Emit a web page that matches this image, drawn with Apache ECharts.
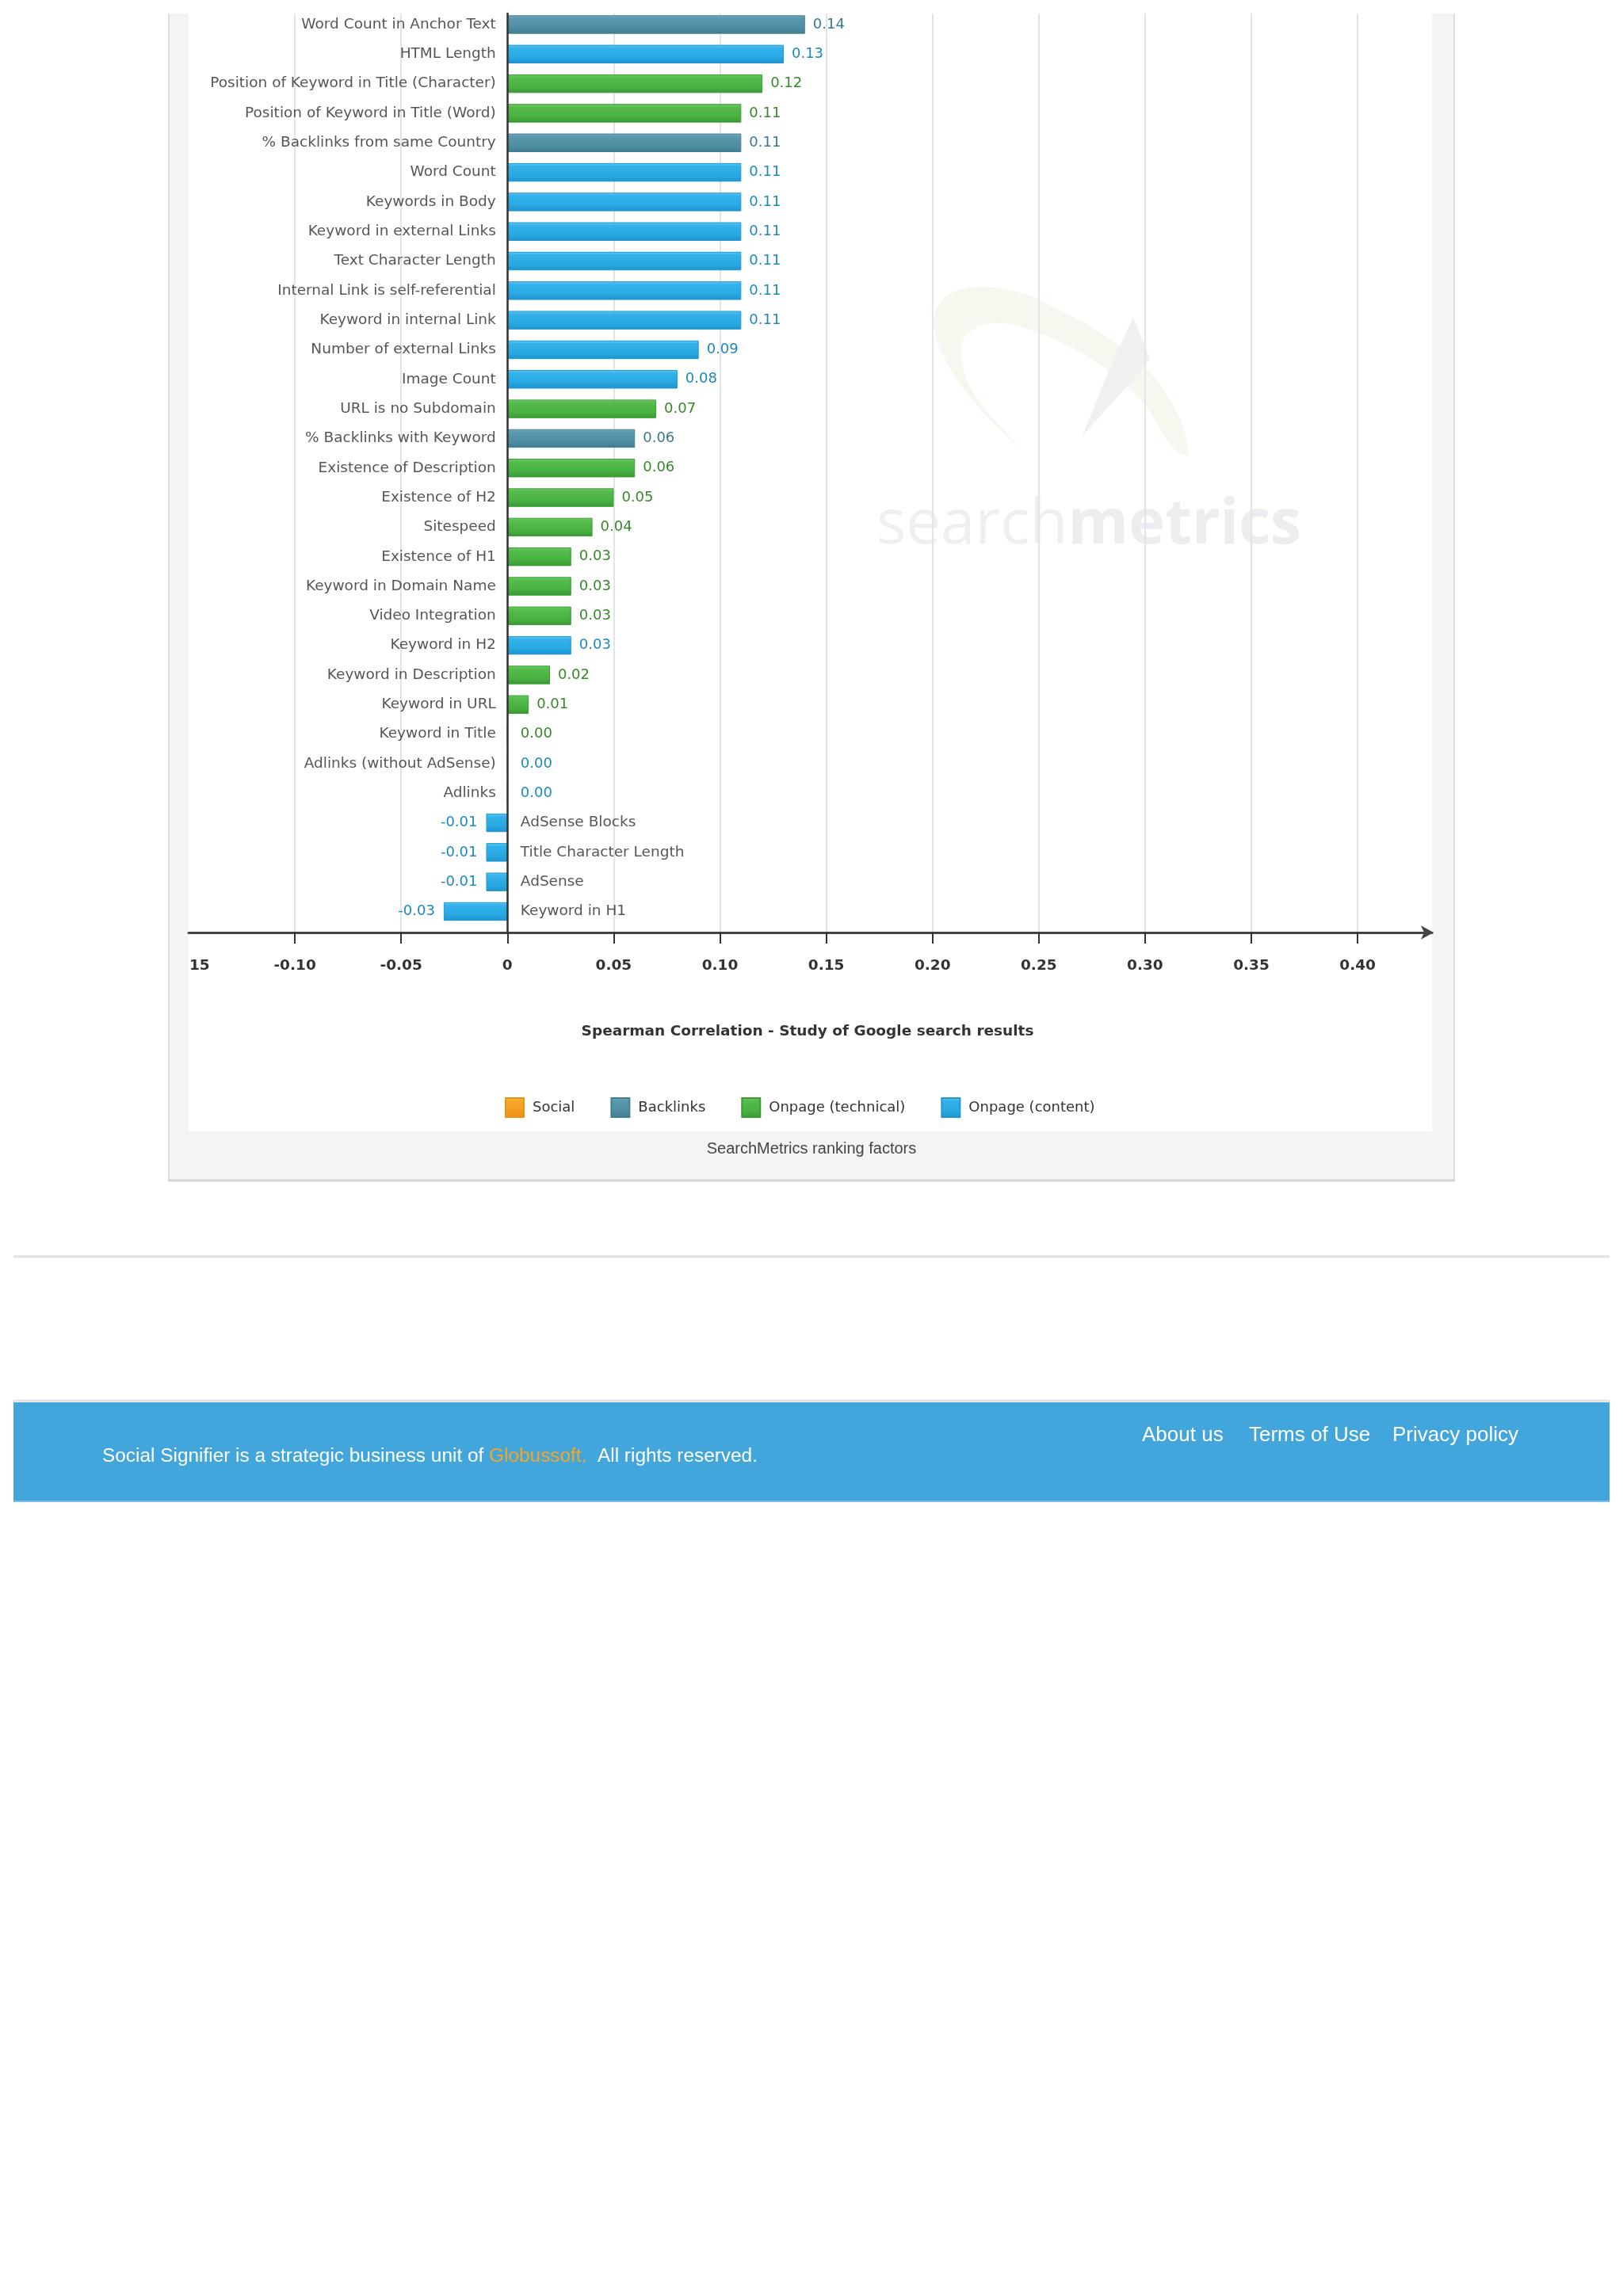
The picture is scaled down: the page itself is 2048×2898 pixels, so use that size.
<!DOCTYPE html>
<html>
<head>
<meta charset="utf-8">
<style>
html,body{margin:0;padding:0;background:#ffffff;}
#main{width:2048px;height:2898px;}
</style>
<script src="https://cdn.jsdelivr.net/npm/echarts@6/dist/echarts.min.js"></script>
</head>
<body>
<div id="main"></div>
<script>
// ---------------- data ----------------
const categories = [
  'Word Count in Anchor Text','HTML Length','Position of Keyword in Title (Character)',
  'Position of Keyword in Title (Word)','% Backlinks from same Country','Word Count',
  'Keywords in Body','Keyword in external Links','Text Character Length',
  'Internal Link is self-referential','Keyword in internal Link','Number of external Links',
  'Image Count','URL is no Subdomain','% Backlinks with Keyword','Existence of Description',
  'Existence of H2','Sitespeed','Existence of H1','Keyword in Domain Name','Video Integration',
  'Keyword in H2','Keyword in Description','Keyword in URL','Keyword in Title',
  'Adlinks (without AdSense)','Adlinks','AdSense Blocks','Title Character Length','AdSense',
  'Keyword in H1'
];
const values = [
  0.14,0.13,0.12,0.11,0.11,0.11,0.11,0.11,0.11,0.11,0.11,0.09,0.08,0.07,0.06,0.06,
  0.05,0.04,0.03,0.03,0.03,0.03,0.02,0.01,0.00,0.00,0.00,-0.01,-0.01,-0.01,-0.03
];
// group of each factor
const groups = [
  'Backlinks','Onpage (content)','Onpage (technical)','Onpage (technical)','Backlinks',
  'Onpage (content)','Onpage (content)','Onpage (content)','Onpage (content)','Onpage (content)',
  'Onpage (content)','Onpage (content)','Onpage (content)','Onpage (technical)','Backlinks',
  'Onpage (technical)','Onpage (technical)','Onpage (technical)','Onpage (technical)',
  'Onpage (technical)','Onpage (technical)','Onpage (content)','Onpage (technical)',
  'Onpage (technical)','Onpage (technical)','Onpage (content)','Onpage (content)',
  'Onpage (content)','Onpage (content)','Onpage (content)','Onpage (content)'
];
const seriesNames = ['Social','Backlinks','Onpage (technical)','Onpage (content)'];
const xTicks = [-0.15,-0.10,-0.05,0,0.05,0.10,0.15,0.20,0.25,0.30,0.35,0.40];
const chartTitle = 'Spearman Correlation - Study of Google search results';
const caption = 'SearchMetrics ranking factors';

// ---------------- styles ----------------
function grad(stops){
  return {type:'linear',x:0,y:0,x2:0,y2:1,colorStops:stops.map(c=>({offset:c[0],color:c[1]}))};
}
const styles = {
  'Social': {fill:grad([[0,'#fbb94a'],[0.2,'#f8a72a'],[1,'#ee9116']]), border:'#e99318', label:'#d98a14'},
  'Backlinks': {fill:grad([[0,'#76abbd'],[0.18,'#5a98ad'],[0.7,'#4d8ca1'],[1,'#3f7b90']]), border:'#44808f', label:'#3a7890'},
  'Onpage (technical)': {fill:grad([[0,'#72cc68'],[0.18,'#55bc4c'],[0.7,'#48b040'],[1,'#389833']]), border:'#3d9a37', label:'#38872a'},
  'Onpage (content)': {fill:grad([[0,'#62c9f5'],[0.18,'#33b2ea'],[0.7,'#28a8e2'],[1,'#1c92ce']]), border:'#2196cf', label:'#1c89bd'}
};
const FONT = 'DejaVu Sans';

const barSeries = seriesNames.map(name => ({
  name: name,
  type: 'bar',
  xAxisIndex: 0, yAxisIndex: 0,
  stack: 'all',
  barWidth: 23.4,
  z: 3,
  itemStyle: {color: styles[name].fill, borderColor: styles[name].border, borderWidth: 1},
  label: {
    show: true,
    fontFamily: FONT, fontSize: 18, color: styles[name].label,
    formatter: p => (p.value === null || p.value === undefined) ? '' : Number(p.value).toFixed(2)
  },
  data: values.map((v, i) => groups[i] === name ? {
    value: v,
    label: {position: v < 0 ? 'left' : 'right', distance: v < 0 ? 11 : (v === 0 ? 16 : 10)}
  } : null)
}));

const nameSeries = {
  name: 'names',
  type: 'scatter',
  xAxisIndex: 0, yAxisIndex: 0,
  symbolSize: 1,
  itemStyle: {color: 'rgba(0,0,0,0)'},
  silent: true,
  z: 4,
  label: {
    show: true, fontFamily: FONT, fontSize: 18.5, color: '#2a2a2a',
    formatter: p => categories[p.dataIndex]
  },
  data: categories.map((c, i) => ({
    value: [0, i],
    label: {position: values[i] < 0 ? 'right' : 'left', distance: values[i] < 0 ? 16 : 14}
  }))
};

const chart = echarts.init(document.getElementById('main'), null, {renderer: 'canvas'});

const option = {
  animation: false,
  backgroundColor: '#ffffff',
  grid: [
    {left: 238, width: 1569, top: 12.34, height: 1156.8, containLabel: false, outerBoundsMode: 'none'},
    {left: 238, width: 1569, top: 17, height: 1160, containLabel: false, outerBoundsMode: 'none'}
  ],
  xAxis: [
    {gridIndex: 0, type: 'value', min: -0.15, max: 0.435, show: false},
    {
      gridIndex: 1, type: 'value', min: -0.15, max: 0.435, interval: 0.05,
      axisLine: {show: true, onZero: false, symbol: ['none', 'arrow'], symbolSize: [13, 16], symbolOffset: [0, 2],
                 lineStyle: {color: '#454545', width: 3}},
      axisTick: {show: true, length: 14, lineStyle: {color: '#333333', width: 2}, customValues: xTicks.slice(1)},
      axisLabel: {
        show: true, margin: 33, fontFamily: FONT, fontWeight: 'bold', fontSize: 18.5, color: '#333333',
        customValues: xTicks,
        formatter: v => Math.abs(v) < 1e-9 ? '0' : Number(v).toFixed(2)
      },
      splitLine: {show: true, lineStyle: {color: '#e4e4e7', width: 2}}
    }
  ],
  yAxis: [
    {gridIndex: 0, type: 'category', data: categories, inverse: true, show: false},
    {
      gridIndex: 1, type: 'value', min: 0, max: 1, z: 6,
      axisLine: {show: true, onZero: true, lineStyle: {color: '#333333', width: 2.5}},
      axisTick: {show: false}, axisLabel: {show: false}, splitLine: {show: false}
    }
  ],
  legend: {
    data: seriesNames,
    left: 632, top: 1380,
    itemWidth: 23, itemHeight: 24, itemGap: 45,
    icon: 'rect',
    selectedMode: false,
    textStyle: {fontFamily: FONT, fontSize: 18, color: '#333333', padding: [0, 0, 0, 6]}
  },
  series: barSeries.concat([nameSeries]),
  graphic: {
    elements: [
      // gray outer panel
      {type: 'rect', z: -5, silent: true, shape: {x: 213, y: 17, width: 1622, height: 1473},
       style: {fill: '#f4f4f6'}},
      {type: 'line', z: -4, silent: true, shape: {x1: 213, y1: 17, x2: 213, y2: 1490}, style: {stroke: '#dcdce0', lineWidth: 2}},
      {type: 'line', z: -4, silent: true, shape: {x1: 1835, y1: 17, x2: 1835, y2: 1490}, style: {stroke: '#dcdce0', lineWidth: 2}},
      {type: 'line', z: -4, silent: true, shape: {x1: 212, y1: 1490, x2: 1836, y2: 1490}, style: {stroke: '#d6d6da', lineWidth: 3}},
      // inner white plot area
      {type: 'rect', z: -4, silent: true, shape: {x: 238, y: 17, width: 1569, height: 1411}, style: {fill: '#ffffff'}},
      // faint watermark
      {type: 'polygon', z: -3, silent: true,
       shape: {smooth: 0.35, points: [[1289,567],[1215,490],[1178,410],[1200,370],[1270,365],[1350,398],[1430,450],[1480,510],[1500,573],[1481,567],[1440,505],[1380,455],[1310,420],[1250,408],[1215,430],[1225,490]]},
       style: {fill: '#f4f8ee'}},
      {type: 'polygon', z: -3, silent: true,
       shape: {points: [[1430,400],[1451,452],[1438,470],[1366,550],[1398,470]]},
       style: {fill: '#f0f0f0'}},
      {type: 'text', z: -3, silent: true,
       style: {x: 1106, y: 664, text: '{a|search}{b|metrics}', textVerticalAlign: 'middle', textAlign: 'left',
               rich: {a: {fontFamily: 'Open Sans', fontSize: 78, fontWeight: 'normal', fill: '#efeff2'},
                      b: {fontFamily: 'Open Sans', fontSize: 78, fontWeight: 'bold', fill: '#ededf1'}}}},
      // cover the clipped part of the leftmost tick label
      {type: 'rect', z: 100, silent: true, shape: {x: 0, y: 1196, width: 212, height: 48}, style: {fill: '#ffffff'}},
      {type: 'rect', z: 100, silent: true, shape: {x: 214, y: 1196, width: 24, height: 48}, style: {fill: '#f4f4f6'}},
      {type: 'line', z: 101, silent: true, shape: {x1: 213, y1: 1196, x2: 213, y2: 1244}, style: {stroke: '#dcdce0', lineWidth: 2}},
      // chart title and caption
      {type: 'text', z: 10, silent: true,
       style: {x: 1019, y: 1302, text: chartTitle, textAlign: 'center', textVerticalAlign: 'middle',
               fontFamily: FONT, fontWeight: 'bold', fontSize: 18.5, fill: '#333333'}},
      {type: 'text', z: 10, silent: true,
       style: {x: 1024, y: 1450, text: caption, textAlign: 'center', textVerticalAlign: 'middle',
               fontFamily: 'Liberation Sans', fontSize: 20, fill: '#444444'}},
      // separator line
      {type: 'line', silent: true, shape: {x1: 17, y1: 1586, x2: 2031, y2: 1586}, style: {stroke: '#e2e2e4', lineWidth: 3}},
      // footer
      {type: 'line', silent: true, shape: {x1: 17, y1: 1768, x2: 2031, y2: 1768}, style: {stroke: '#dfe3e6', lineWidth: 3}},
      {type: 'rect', silent: true, shape: {x: 17, y: 1770, width: 2014, height: 126}, style: {fill: '#42a5dc'}},
      {type: 'line', silent: true, shape: {x1: 17, y1: 1895, x2: 2031, y2: 1895}, style: {stroke: '#7cc0e8', lineWidth: 2}},
      {type: 'text', silent: true,
       style: {x: 129, y: 1838, textAlign: 'left', textVerticalAlign: 'middle',
               text: '{w|Social Signifier is a strategic business unit of }{o|Globussoft.}{w|  All rights reserved.}',
               rich: {w: {fontFamily: 'Liberation Sans', fontSize: 24.4, fill: '#ffffff'},
                      o: {fontFamily: 'Liberation Sans', fontSize: 24.4, fill: '#f5a623'}}}},
      {type: 'text', silent: true, style: {x: 1441, y: 1812, text: 'About us', textVerticalAlign: 'middle',
               fontFamily: 'Liberation Sans', fontSize: 26, fill: '#ffffff'}},
      {type: 'text', silent: true, style: {x: 1576, y: 1812, text: 'Terms of Use', textVerticalAlign: 'middle',
               fontFamily: 'Liberation Sans', fontSize: 26, fill: '#ffffff'}},
      {type: 'text', silent: true, style: {x: 1757, y: 1812, text: 'Privacy policy', textVerticalAlign: 'middle',
               fontFamily: 'Liberation Sans', fontSize: 26, fill: '#ffffff'}}
    ]
  }
};
chart.setOption(option);
</script>
</body>
</html>
